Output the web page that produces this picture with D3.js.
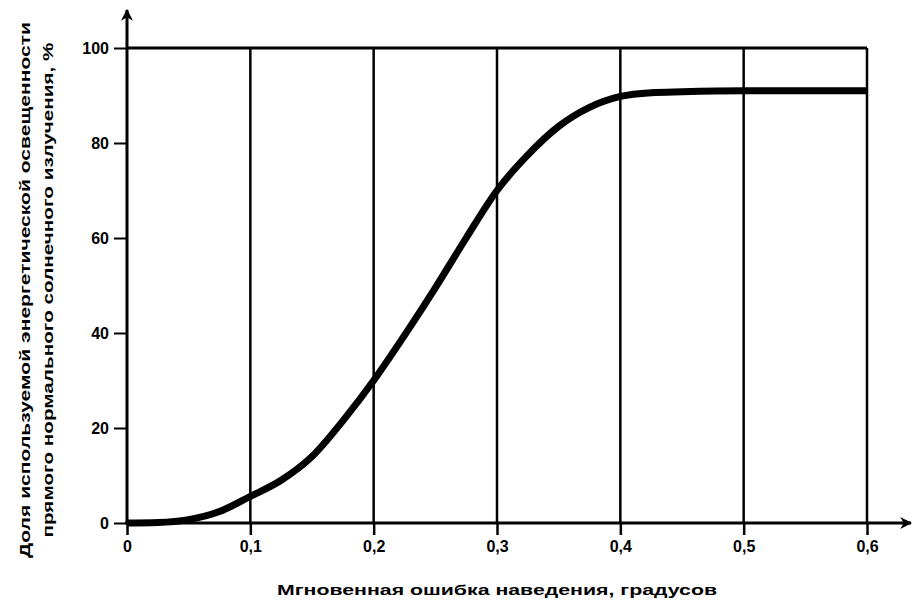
<!DOCTYPE html>
<html>
<head>
<meta charset="utf-8">
<script src="https://cdn.jsdelivr.net/npm/d3@7"></script>
<style>
  body { margin: 0; background: #fff; }
  svg { display: block; }
</style>
</head>
<body>
<svg></svg>
<script>
var width = 913;
var height = 612;
var margin = {top: 48, right: 46, bottom: 89, left: 127};

// pointing error, degrees
var errDeg = [0, 0.025, 0.05, 0.075, 0.1, 0.125, 0.15, 0.175, 0.2, 0.225, 0.25, 0.275,
              0.3, 0.325, 0.35, 0.375, 0.4, 0.425, 0.45, 0.5, 0.55, 0.6];
// share of irradiance used, %
var sharePct = [0, 0.1, 0.7, 2.4, 5.6, 9, 14, 21.5, 30, 39.5, 49.5, 60,
                70, 77.5, 83.5, 87.5, 89.8, 90.6, 90.8, 91, 91, 91];

var xTicks = [0, 0.1, 0.2, 0.3, 0.4, 0.5, 0.6];
var xTickLabels = ['0', '0,1', '0,2', '0,3', '0,4', '0,5', '0,6'];
var yTicks = [0, 20, 40, 60, 80, 100];

var yTitle = ['Доля используемой энергетической освещенности',
              'прямого нормального солнечного излучения, %'];
var xTitle = 'Мгновенная ошибка наведения, градусов';

var x = d3.scaleLinear()
    .domain([0, 0.6])
    .range([margin.left, width - margin.right]);

var y = d3.scaleLinear()
    .domain([0, 100])
    .range([height - margin.bottom, margin.top]);

const svg = d3.select('svg')
    .attr('width', width)
    .attr('height', height)
    .attr('font-family', '"Liberation Sans", Arial, sans-serif')
    .attr('font-weight', 'bold');

// vertical grid lines
svg.append('g')
    .selectAll('line')
    .data(xTicks.slice(1))
    .join('line')
    .attr('x1', d => x(d))
    .attr('x2', d => x(d))
    .attr('y1', y(100))
    .attr('y2', y(0))
    .attr('stroke', '#000')
    .attr('stroke-width', 2.5);

// top line at 100
svg.append('line')
    .attr('x1', x(0))
    .attr('x2', x(0.6))
    .attr('y1', y(100))
    .attr('y2', y(100))
    .attr('stroke', '#000')
    .attr('stroke-width', 3);

const xAxis = d3.axisBottom(x)
    .tickValues(xTicks)
    .tickFormat((d, i) => xTickLabels[i])
    .tickSize(12)
    .tickPadding(6);

const yAxis = d3.axisLeft(y)
    .tickValues(yTicks)
    .tickSize(13)
    .tickPadding(5);

const gx = svg.append('g')
    .attr('transform', `translate(0,${y(0)})`)
    .call(xAxis);
gx.select('.domain').remove();
gx.selectAll('line').attr('stroke', '#000').attr('stroke-width', 2.5);
gx.selectAll('text')
    .attr('fill', '#000')
    .attr('font-size', 16)
    .attr('font-weight', 'bold');

const gy = svg.append('g')
    .attr('transform', `translate(${x(0)},0)`)
    .call(yAxis);
gy.select('.domain').remove();
gy.selectAll('line').attr('stroke', '#000').attr('stroke-width', 2);
gy.selectAll('text')
    .attr('fill', '#000')
    .attr('font-size', 16)
    .attr('font-weight', 'bold');

// axis lines with arrows
svg.append('defs').append('marker')
    .attr('id', 'arrow')
    .attr('viewBox', '0 0 10 10')
    .attr('refX', 9)
    .attr('refY', 5)
    .attr('markerUnits', 'userSpaceOnUse')
    .attr('markerWidth', 12)
    .attr('markerHeight', 14)
    .attr('orient', 'auto')
    .append('path')
    .attr('d', 'M0,0 L10,5 L0,10 L3,5 Z')
    .attr('fill', '#000');

svg.append('line')
    .attr('x1', x(0))
    .attr('x2', x(0))
    .attr('y1', y(0) + 1)
    .attr('y2', 10)
    .attr('stroke', '#000')
    .attr('stroke-width', 3)
    .attr('marker-end', 'url(#arrow)');

svg.append('line')
    .attr('x1', x(0) - 2)
    .attr('x2', 911)
    .attr('y1', y(0))
    .attr('y2', y(0))
    .attr('stroke', '#000')
    .attr('stroke-width', 3)
    .attr('marker-end', 'url(#arrow)');

// curve
const line = d3.line()
    .x((d, i) => x(errDeg[i]))
    .y(d => y(d))
    .curve(d3.curveMonotoneX);

svg.append('path')
    .datum(sharePct)
    .attr('d', line)
    .attr('fill', 'none')
    .attr('stroke', '#000')
    .attr('stroke-width', 7);

// titles
svg.append('text')
    .attr('x', (x(0) + x(0.6)) / 2)
    .attr('y', 595)
    .attr('text-anchor', 'middle')
    .attr('font-size', 14)
    .attr('textLength', 440)
    .attr('lengthAdjust', 'spacingAndGlyphs')
    .text(xTitle);

var yTitleX = [30, 53];
var yTitleLen = [536, 495];
svg.selectAll('.ytitle')
    .data(yTitle)
    .join('text')
    .attr('class', 'ytitle')
    .attr('transform', (d, i) => `translate(${yTitleX[i]},290) rotate(-90)`)
    .attr('text-anchor', 'middle')
    .attr('font-size', 14)
    .attr('textLength', (d, i) => yTitleLen[i])
    .attr('lengthAdjust', 'spacingAndGlyphs')
    .text(d => d);
</script>
</body>
</html>
